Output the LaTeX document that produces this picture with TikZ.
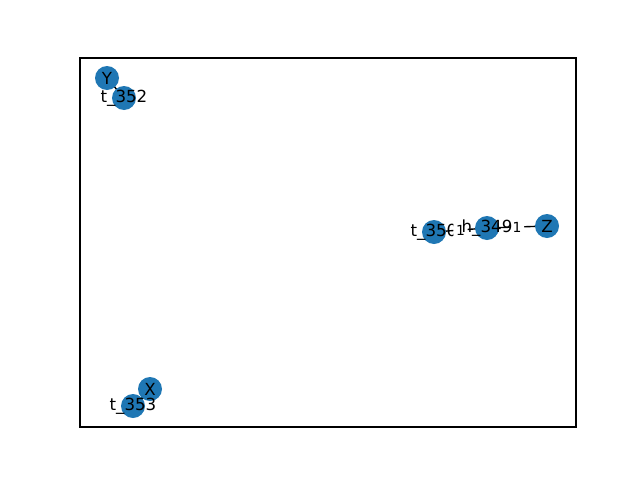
\documentclass[tikz,border=0pt]{standalone}
\usepackage{fontspec}
\setmainfont{DejaVu Sans}
\usetikzlibrary{calc}
\definecolor{nodeblue}{HTML}{1F77B4}
\begin{document}
\begin{tikzpicture}[x=0.72pt,y=-0.72pt,
  vert/.style={circle,fill=nodeblue,minimum size=24*0.72pt,inner sep=0pt},
  vlabel/.style={font=\fontsize{12}{14}\selectfont,inner sep=0pt},
  elabel/.style={font=\fontsize{10}{12}\selectfont,fill=white,inner sep=2pt,rounded corners=2pt},
  edge/.style={draw=black,line width=1pt}]
\useasboundingbox (0,0) rectangle (640,480);
\draw[line width=0.8pt] (80,58) rectangle (576,427);
\coordinate (Y) at (107,78);
\coordinate (t352) at (124,98);
\coordinate (t350) at (434,232);
\coordinate (h349) at (487,228);
\coordinate (Z) at (547,226);
\coordinate (X) at (150,389);
\coordinate (t353) at (133,406);
\draw[edge] (Y) -- (t352);
\draw[edge] (t350) -- (h349);
\draw[edge] (h349) -- (Z);
\draw[edge] (X) -- (t353);
\node[vert] (nY) at (Y) {};
\node[vert] (nt352) at (t352) {};
\node[vert] (nt350) at (t350) {};
\node[vert] (nh349) at (h349) {};
\node[vert] (nZ) at (Z) {};
\node[vert] (nX) at (X) {};
\node[vert] (nt353) at (t353) {};
\node[vlabel] (lt350) at (t350) {t\_350};
\node[elabel] (e1) at ($(t350)!0.5!(h349)$) {1};
\node[elabel] (e2) at ($(h349)!0.5!(Z)$) {1};
\node[vlabel] (lY) at (Y) {Y};
\node[vlabel] (lt352) at (t352) {t\_352};
\node[vlabel] (lh349) at (h349) {h\_349};
\node[vlabel] (lZ) at (Z) {Z};
\node[vlabel] (lX) at (X) {X};
\node[vlabel] (lt353) at (t353) {t\_353};
\end{tikzpicture}
\end{document}
